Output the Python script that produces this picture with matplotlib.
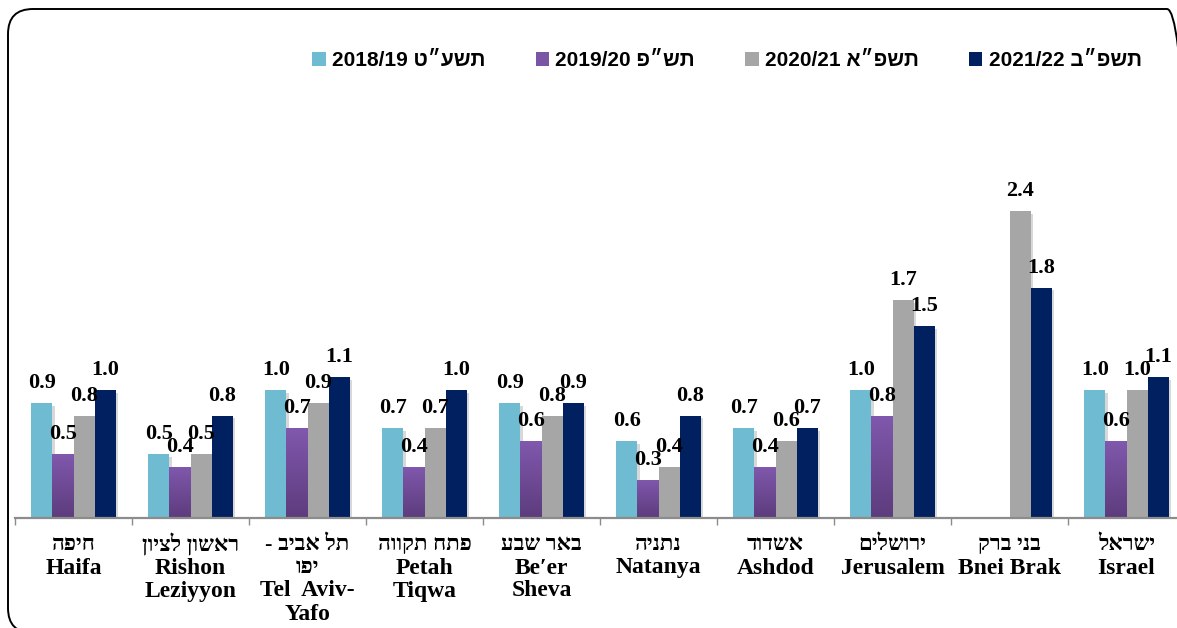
import numpy as np
import matplotlib
matplotlib.use('Agg')
from matplotlib import pyplot as plt
from matplotlib import font_manager
from matplotlib.patches import FancyBboxPatch, Patch
from matplotlib.colors import LinearSegmentedColormap
import matplotlib.patheffects as pe

# data
cities_he = ['חיפה', 'ראשון לציון', 'תל אביב -\nיפו', 'פתח תקווה', 'באר שבע',
             'נתניה', 'אשדוד', 'ירושלים', 'בני ברק', 'ישראל']
cities_en = ['Haifa', 'Rishon\nLeziyyon', 'Tel  Aviv-\nYafo', 'Petah\nTiqwa', 'Be\u2032er\nSheva',
             'Natanya', 'Ashdod', 'Jerusalem', 'Bnei Brak', 'Israel']
years = ['2018/19', '2019/20', '2020/21', '2021/22']
years_he = ['תשע״ט', 'תש״פ', 'תשפ״א', 'תשפ״ב']

v_2018 = [0.9, 0.5, 1.0, 0.7, 0.9, 0.6, 0.7, 1.0, np.nan, 1.0]
v_2019 = [0.5, 0.4, 0.7, 0.4, 0.6, 0.3, 0.4, 0.8, np.nan, 0.6]
v_2020 = [0.8, 0.5, 0.9, 0.7, 0.8, 0.4, 0.6, 1.7, 2.4, 1.0]
v_2021 = [1.0, 0.8, 1.1, 1.0, 0.9, 0.8, 0.7, 1.5, 1.8, 1.1]

colors = ['#6ebbd2', '#7a55a6', '#a6a6a6', '#002060']


def rtl(s):
    # matplotlib has no bidi, so draw hebrew in visual order
    return '\n'.join(line[::-1] for line in s.split('\n'))


names = {f.name for f in font_manager.fontManager.ttflist}
serif = ['Liberation Serif', 'DejaVu Serif']
legend_fam = ['Liberation Sans Narrow', 'Liberation Sans', 'DejaVu Sans']
legend_fam = [f for f in legend_fam if f in names]

W, H = 1177, 628
fig = plt.figure(figsize=(W / 100, H / 100), dpi=100)
ax = fig.add_axes([15 / W, 1 - 518 / H, 1170 / W, 384 / H])

series = [v_2018, v_2019, v_2020, v_2021]
x = np.arange(len(cities_en))
bw = 0.18
shadow = [pe.SimplePatchShadow(offset=(2, -2), shadow_rgbFace='#808080', alpha=0.3), pe.Normal()]
purple_cmap = LinearSegmentedColormap.from_list('purp', ['#5d3c7d', '#8058ad'])

for k, vals in enumerate(series):
    vals = np.array(vals, dtype=float)
    pos = x + (k - 1.5) * bw
    bars = ax.bar(pos, np.nan_to_num(vals), bw, color=colors[k], zorder=2, path_effects=shadow)
    if k == 1:
        grad = np.linspace(0, 1, 100).reshape(-1, 1)
        for b in bars:
            im = ax.imshow(grad, cmap=purple_cmap, origin='lower', aspect='auto', zorder=2.5,
                           extent=[b.get_x(), b.get_x() + b.get_width(), 0, b.get_height()])
            im.set_clip_path(b)
    for xi, v in zip(pos, vals):
        if np.isnan(v):
            continue
        ax.annotate(f'{v:.1f}', (xi, v), xytext=(0, 10), textcoords='offset pixels',
                    ha='center', va='bottom', fontsize=16, fontweight='bold',
                    family=serif, zorder=5)

ax.set_xlim(-0.5, len(cities_en) - 0.5)
ax.set_ylim(0, 3)

for s in ['top', 'right', 'left']:
    ax.spines[s].set_visible(False)
ax.spines['bottom'].set_color('#8c8c8c')
ax.spines['bottom'].set_linewidth(1.6)
ax.set_yticks([])
ax.set_xticks(np.arange(-0.5, len(cities_en), 1.0))
ax.set_xticklabels([])
ax.tick_params(axis='x', length=5, width=1, color='#8c8c8c', direction='out')

# category labels, hebrew lines first then english
step = 23
for i in range(len(cities_en)):
    n_he = cities_he[i].count('\n') + 1
    lines = rtl(cities_he[i]).split('\n') + cities_en[i].split('\n')
    for j, txt in enumerate(lines):
        ax.annotate(txt, (i, 0), xycoords=('data', 'axes fraction'),
                    xytext=(0, -27 - step * j), textcoords='offset pixels',
                    ha='center', va='center', fontsize=17 if j >= n_he else 16,
                    fontweight='bold', family=serif, annotation_clip=False)

handles = [Patch(facecolor=c) for c in colors]
labels = [f'{y} {rtl(h)}' for y, h in zip(years, years_he)]
fig.legend(handles, labels, loc='center', bbox_to_anchor=(727 / W, 1 - 61 / H), ncol=4,
           frameon=False, handlelength=0.65, handleheight=0.65, handletextpad=0.3,
           columnspacing=2.4, prop={'family': legend_fam, 'weight': 'bold', 'size': 15})

frame = FancyBboxPatch((8 / 100, (H - 633) / 100), 1184 / 100, 624 / 100,
                       boxstyle='round,pad=0,rounding_size=0.25', transform=fig.dpi_scale_trans,
                       fill=False, ec='black', lw=1.4, clip_on=False)
fig.add_artist(frame)

fig.savefig('out.png', dpi=100)
